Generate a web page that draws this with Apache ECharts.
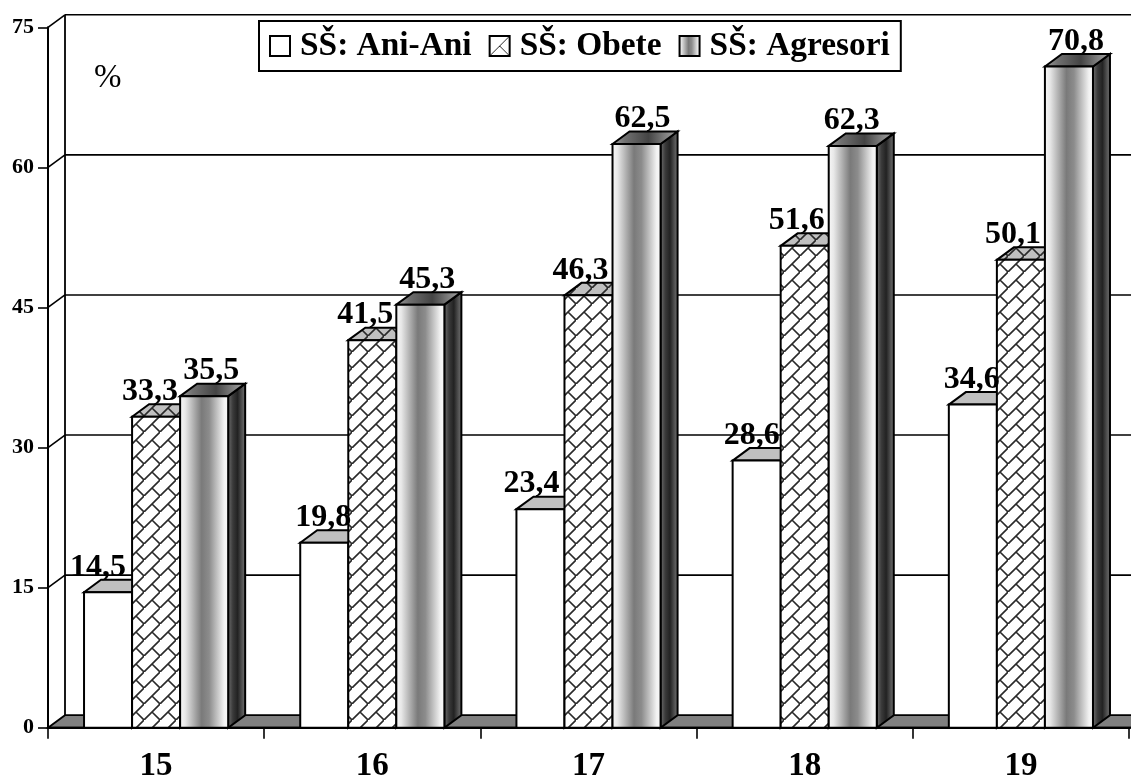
<!DOCTYPE html>
<html><head><meta charset="utf-8">
<style>html,body{margin:0;padding:0;background:#fff}#c{width:1131px;height:780px}</style>
<script src="https://cdn.jsdelivr.net/npm/echarts@6/dist/echarts.min.js"></script>
</head><body><div id="c"></div>
<script>
var categories = ['15','16','17','18','19'];
var aniAni = [14.5,19.8,23.4,28.6,34.6];
var obete = [33.3,41.5,46.3,51.6,50.1];
var agresori = [35.5,45.3,62.5,62.3,70.8];
var yTicks = [0,15,30,45,60,75];
var names = ['SŠ: Ani-Ani','SŠ: Obete','SŠ: Agresori'];
// label nudges (style only), px
var labelNudge = [[-10,-1,-9,-5,-1],[-6,-7,-8,-8,-8],[7,7,6,-1,7]];
var DX=17, DY=-12.5, FONT='"Liberation Serif","Times New Roman",serif';

function tile(bg,S,lw){
  var c=document.createElement('canvas');c.width=S;c.height=S;var g=c.getContext('2d');
  if(bg){g.fillStyle=bg;g.fillRect(0,0,S,S);}
  g.strokeStyle='#2a2a2a';g.lineWidth=lw;g.beginPath();
  [[-1,S+1,S+1,-1],[S/2,S/2,S+1,S+1],[-1,-1,0,0]].forEach(function(l){g.moveTo(l[0],l[1]);g.lineTo(l[2],l[3]);});
  g.stroke();return c;
}
var patW={image:tile('#fff',16,1.6),repeat:'repeat'}, patT={image:tile(null,16,1.6),repeat:'repeat'};
var patL={image:tile('#fff',20,1),repeat:'repeat'};
function lin(stops){return {type:'linear',x:0,y:0,x2:1,y2:0,colorStops:stops.map(function(s){return {offset:s[0],color:s[1]};})};}
var frontG=lin([[0,'#fafafa'],[0.12,'#e8e8e8'],[0.45,'#7a7a7a'],[0.6,'#8c8c8c'],[0.9,'#f2f2f2'],[1,'#fafafa']]);
var topG=lin([[0,'#a0a0a0'],[0.2,'#707070'],[0.55,'#444'],[0.8,'#808080'],[1,'#aaa']]);
var sideG=lin([[0,'#777'],[0.3,'#3a3a3a'],[0.55,'#222'],[0.8,'#555'],[1,'#777']]);
var skins=[
 {front:['#fff'],top:['#c0c0c0'],side:['#555'],legend:'#fff'},
 {front:[patW],top:['#c0c0c0',patT],side:['#555'],legend:patL},
 {front:[frontG],top:[topG],side:[sideG],legend:frontG}
];
function st(f,stroke){return {fill:f,stroke:stroke?'#000':null,lineWidth:stroke?2:0};}
function barSeries(si,vals){
  return {type:'custom',name:names[si],coordinateSystem:'cartesian2d',z:3+si,clip:false,
    itemStyle:{color:skins[si].legend,borderColor:'#000',borderWidth:1.5},
    data:vals.map(function(v,i){return [i,v];}),
    encode:{x:0,y:1},
    renderItem:function(p,api){
      var w=api.size([1,0])[0]/4.5;
      var top=api.coord([api.value(0),api.value(1)]), bot=api.coord([api.value(0),0]);
      var x0=top[0]+(si-1)*w-w/2,x1=x0+w,y0=top[1],y1=bot[1],ch=[],s=skins[si];
      function poly(pts,fills){fills.forEach(function(f,k){ch.push({type:'polygon',shape:{points:pts},style:st(f,k===fills.length-1)});});}
      poly([[x1,y0],[x1+DX,y0+DY],[x1+DX,y1+DY],[x1,y1]],s.side);
      poly([[x0,y0],[x0+DX,y0+DY],[x1+DX,y0+DY],[x1,y0]],s.top);
      poly([[x0,y0],[x1,y0],[x1,y1],[x0,y1]],s.front);
      return {type:'group',children:ch};
    }};
}
function labelSeries(si,vals){
  return {type:'custom',coordinateSystem:'cartesian2d',z:20,clip:false,silent:true,
    data:vals.map(function(v,i){return [i,v];}),encode:{x:0,y:1},
    renderItem:function(p,api){
      var w=api.size([1,0])[0]/4.5,i=api.value(0),v=api.value(1),c=api.coord([i,v]);
      return {type:'text',style:{text:v.toFixed(1).replace('.',','),x:c[0]+(si-1)*w+labelNudge[si][i],y:c[1]-9,
        font:'bold 32px '+FONT,fill:'#000',textAlign:'center',textVerticalAlign:'bottom'}};
    }};
}
var wall={type:'custom',coordinateSystem:'cartesian2d',z:1,clip:false,silent:true,
  data:yTicks.map(function(t){return [0,t];}),encode:{y:1},
  renderItem:function(p,api){
    var t=api.value(1),g=p.coordSys,c=api.coord([0,t]);var L=g.x,y=c[1],ch=[];
    if(t===0){
      ch.push({type:'polygon',shape:{points:[[L,y],[L+DX,y+DY],[1135,y+DY],[1135,y]]},style:{fill:'#808080',stroke:'#000',lineWidth:1.8}});
      ch.push({type:'line',shape:{x1:L+DX,y1:y+DY,x2:L+DX,y2:g.y+DY},style:{stroke:'#000',lineWidth:1.8}});
      ch.push({type:'line',shape:{x1:L,y1:y,x2:1135,y2:y},style:{stroke:'#000',lineWidth:2}});
    }else{
      ch.push({type:'line',shape:{x1:L+DX,y1:y+DY,x2:1135,y2:y+DY},style:{stroke:'#000',lineWidth:1.6}});
      ch.push({type:'line',shape:{x1:L,y1:y,x2:L+DX,y2:y+DY},style:{stroke:'#000',lineWidth:1.6}});
    }
    return {type:'group',children:ch};
  }};
var chart=echarts.init(document.getElementById('c'),null,{renderer:'canvas'});
chart.setOption({
  animation:false,backgroundColor:'#fff',
  title:{text:'%',left:89,top:57,textStyle:{fontFamily:FONT,fontWeight:'normal',fontSize:33,color:'#000'}},
  legend:{data:names,left:259,top:21,padding:[8,11,8,10],itemGap:17,itemWidth:20,itemHeight:20,icon:'rect',
    borderColor:'#000',borderWidth:2,backgroundColor:'#fff',z:30,selectedMode:false,
    textStyle:{fontFamily:FONT,fontWeight:'bold',fontSize:33.4,color:'#000',lineHeight:34,padding:[0,0,0,5]}},
  grid:{left:48,right:2,top:27.3,bottom:52.3,containLabel:false,outerBoundsMode:'none'},
  xAxis:{type:'category',data:categories,boundaryGap:true,
    axisLine:{show:true,lineStyle:{color:'#000',width:2}},
    axisTick:{show:true,length:11,alignWithLabel:false,lineStyle:{color:'#000',width:1.6}},
    axisLabel:{margin:22,fontFamily:FONT,fontWeight:'bold',fontSize:33,color:'#000'},splitLine:{show:false}},
  yAxis:{type:'value',min:0,max:75,interval:15,
    axisLine:{show:true,lineStyle:{color:'#000',width:2}},
    axisTick:{show:true,length:10,lineStyle:{color:'#000',width:1.6}},
    axisLabel:{margin:14,padding:[4,0,0,0],fontFamily:FONT,fontWeight:'bold',fontSize:22,color:'#000'},splitLine:{show:false}},
  series:[wall,barSeries(0,aniAni),barSeries(1,obete),barSeries(2,agresori),
    labelSeries(0,aniAni),labelSeries(1,obete),labelSeries(2,agresori)]
});
</script></body></html>
